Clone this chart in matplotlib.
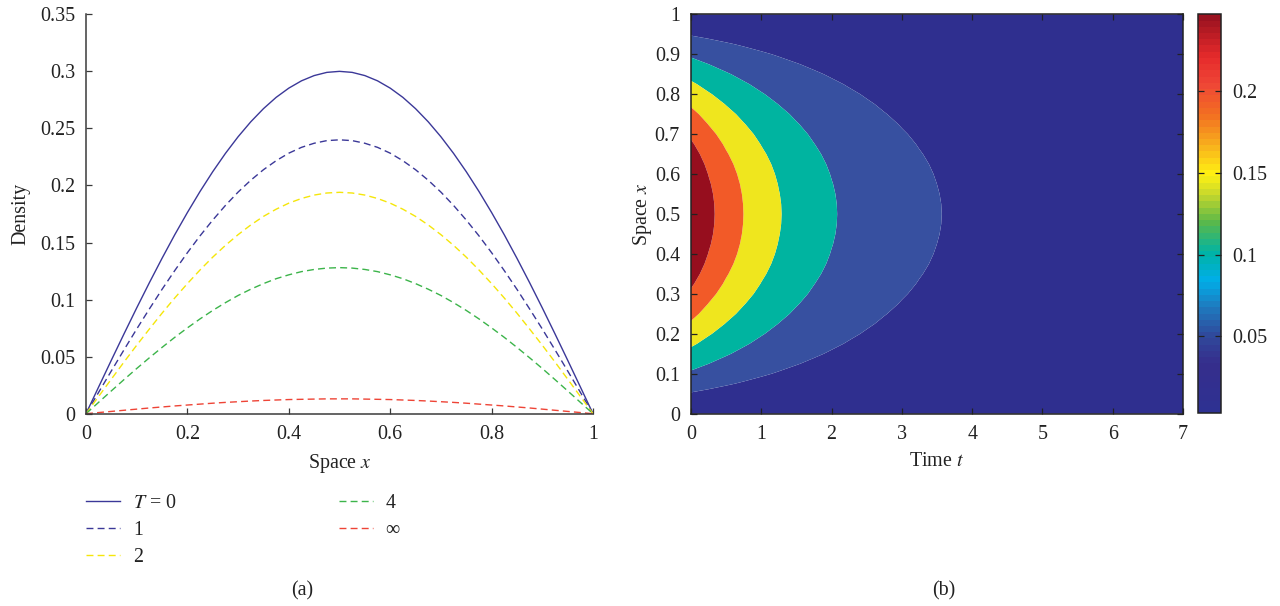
import matplotlib
matplotlib.use("Agg")
import matplotlib.pyplot as plt
import numpy as np
from matplotlib.colors import LinearSegmentedColormap, Normalize
from matplotlib.cm import ScalarMappable
from matplotlib.ticker import FuncFormatter

plt.rcParams["font.family"] = ["Liberation Serif", "DejaVu Serif"]
plt.rcParams["mathtext.fontset"] = "stix"
plt.rcParams["font.size"] = 14.4

# ─────────────────────────────────────────────
# Data
# ─────────────────────────────────────────────
x_space = [0.000, 0.025, 0.050, 0.075, 0.100, 0.125, 0.150, 0.175, 0.200, 0.225, 0.250,
           0.275, 0.300, 0.325, 0.350, 0.375, 0.400, 0.425, 0.450, 0.475, 0.500,
           0.525, 0.550, 0.575, 0.600, 0.625, 0.650, 0.675, 0.700, 0.725, 0.750,
           0.775, 0.800, 0.825, 0.850, 0.875, 0.900, 0.925, 0.950, 0.975, 1.000]

density_T0 = [0.0000, 0.0235, 0.0469, 0.0700, 0.0927, 0.1148, 0.1362, 0.1568, 0.1763, 0.1948, 0.2121,
              0.2281, 0.2427, 0.2558, 0.2673, 0.2772, 0.2853, 0.2917, 0.2963, 0.2991, 0.3000,
              0.2991, 0.2963, 0.2917, 0.2853, 0.2772, 0.2673, 0.2558, 0.2427, 0.2281, 0.2121,
              0.1948, 0.1763, 0.1568, 0.1362, 0.1148, 0.0927, 0.0700, 0.0469, 0.0235, 0.0000]
density_T1 = [0.0000, 0.0188, 0.0375, 0.0560, 0.0742, 0.0918, 0.1090, 0.1254, 0.1411, 0.1559, 0.1697,
              0.1825, 0.1942, 0.2046, 0.2138, 0.2217, 0.2283, 0.2334, 0.2370, 0.2393, 0.2400,
              0.2393, 0.2370, 0.2334, 0.2283, 0.2217, 0.2138, 0.2046, 0.1942, 0.1825, 0.1697,
              0.1559, 0.1411, 0.1254, 0.1090, 0.0918, 0.0742, 0.0560, 0.0375, 0.0188, 0.0000]
density_T2 = [0.0000, 0.0152, 0.0303, 0.0453, 0.0600, 0.0742, 0.0881, 0.1014, 0.1140, 0.1260, 0.1372,
              0.1475, 0.1569, 0.1654, 0.1729, 0.1792, 0.1845, 0.1886, 0.1916, 0.1934, 0.1940,
              0.1934, 0.1916, 0.1886, 0.1845, 0.1792, 0.1729, 0.1654, 0.1569, 0.1475, 0.1372,
              0.1260, 0.1140, 0.1014, 0.0881, 0.0742, 0.0600, 0.0453, 0.0303, 0.0152, 0.0000]
density_T4 = [0.0000, 0.0100, 0.0200, 0.0299, 0.0396, 0.0490, 0.0581, 0.0669, 0.0752, 0.0831, 0.0905,
              0.0973, 0.1036, 0.1091, 0.1140, 0.1183, 0.1217, 0.1245, 0.1264, 0.1276, 0.1280,
              0.1276, 0.1264, 0.1245, 0.1217, 0.1183, 0.1140, 0.1091, 0.1036, 0.0973, 0.0905,
              0.0831, 0.0752, 0.0669, 0.0581, 0.0490, 0.0396, 0.0299, 0.0200, 0.0100, 0.0000]
density_Tinf = [0.0000, 0.0010, 0.0020, 0.0030, 0.0040, 0.0050, 0.0059, 0.0068, 0.0076, 0.0084, 0.0092,
                0.0099, 0.0105, 0.0111, 0.0116, 0.0120, 0.0124, 0.0126, 0.0128, 0.0130, 0.0130,
                0.0130, 0.0128, 0.0126, 0.0124, 0.0120, 0.0116, 0.0111, 0.0105, 0.0099, 0.0092,
                0.0084, 0.0076, 0.0068, 0.0059, 0.0050, 0.0040, 0.0030, 0.0020, 0.0010, 0.0000]

curve_labels = [r"$T$ = 0", "1", "2", "4", "∞"]

# (b) density on the midline x = 0.5 over time
t_time = [0.00, 0.25, 0.50, 0.75, 1.00, 1.25, 1.50, 1.75, 2.00, 2.25, 2.50, 2.75, 3.00, 3.25, 3.50,
          3.75, 4.00, 4.25, 4.50, 4.75, 5.00, 5.25, 5.50, 5.75, 6.00, 6.25, 6.50, 6.75, 7.00]
peak_density = [0.300, 0.2616, 0.2283, 0.1995, 0.1745, 0.1529, 0.1341, 0.1179, 0.1039, 0.0917,
                0.0812, 0.0720, 0.0641, 0.0573, 0.0514, 0.0462, 0.0418, 0.0379, 0.0346, 0.0317,
                0.0292, 0.0270, 0.0251, 0.0235, 0.0221, 0.0209, 0.0198, 0.0189, 0.0181]

contour_levels = [0.0, 0.05, 0.10, 0.15, 0.20, 0.25, 0.31]
colorbar_ticks = [0.05, 0.10, 0.15, 0.20]
cbar_min, cbar_max = 0.003, 0.247

# ─────────────────────────────────────────────
# Styles
# ─────────────────────────────────────────────
W, H = 1280, 606
line_colors = ["#3b3898", "#3b3898", "#f5e60a", "#3cb44a", "#ee4436"]
line_styles = ["-", "--", "--", "--", "--"]
fill_colors = ["#2f2f8f", "#3750a0", "#00b4a0", "#efe61e", "#f25a28", "#960e1e"]
spine_col = "#3a3a3a"

jet_like = LinearSegmentedColormap.from_list("jet_print", [
    (0.00, "#2e3192"), (0.12, "#362e8c"), (0.19, "#2f4a9c"), (0.26, "#1f78bd"),
    (0.33, "#00aee8"), (0.40, "#00b3a5"), (0.48, "#5cb848"), (0.55, "#c8d82c"),
    (0.60, "#fff212"), (0.67, "#f8b31c"), (0.75, "#f37021"), (0.83, "#ef4636"),
    (0.90, "#e52a2b"), (1.00, "#9a1220")], N=64)

fmt = FuncFormatter(lambda v, p: "%g" % round(v, 3))

fig = plt.figure(figsize=(W / 100, H / 100), dpi=100)


def px_axes(x0, y0, x1, y1):
    return fig.add_axes([x0 / W, 1 - y1 / H, (x1 - x0) / W, (y1 - y0) / H])


# ─────────────────────────────────────────────
# (a) density curves
# ─────────────────────────────────────────────
ax1 = px_axes(86, 14.3, 593, 413.7)
series = [density_T0, density_T1, density_T2, density_T4, density_Tinf]
for vals, lab, col, ls in zip(series, curve_labels, line_colors, line_styles):
    kw = {"dashes": (5, 3)} if ls == "--" else {}
    ax1.plot(x_space, vals, color=col, lw=1.0, linestyle=ls, label=lab, **kw)

ax1.set_xlim(0, 1)
ax1.set_ylim(0, 0.35)
ax1.set_xticks([0, 0.2, 0.4, 0.6, 0.8, 1])
ax1.set_yticks([0, 0.05, 0.1, 0.15, 0.2, 0.25, 0.3, 0.35])
ax1.xaxis.set_major_formatter(fmt)
ax1.yaxis.set_major_formatter(fmt)
for s in ["top", "right"]:
    ax1.spines[s].set_visible(False)
for s in ["left", "bottom"]:
    ax1.spines[s].set_color(spine_col)
    ax1.spines[s].set_linewidth(1.1)
ax1.tick_params(direction="in", length=4, width=0.9, color=spine_col, pad=8,
                labelcolor="#222222")
ax1.set_xlabel("Space $x$", color="#222222")
ax1.set_ylabel("Density", color="#222222")
ax1.xaxis.set_label_coords(0.5, -0.095)
ax1.yaxis.set_label_coords(-0.11, 0.5)

ax1.legend(loc="upper left", bbox_to_anchor=(86 / W, 1 - 494 / H),
           bbox_transform=fig.transFigure, ncol=2, frameon=False,
           borderpad=0, borderaxespad=0, handlelength=1.7, handletextpad=0.65,
           columnspacing=8.1, labelspacing=0.4, fontsize=14.4,
           labelcolor="#222222")

# ─────────────────────────────────────────────
# (b) contour of density over time and space
# ─────────────────────────────────────────────
ax2 = px_axes(691, 14.3, 1183, 413.7)
shape = np.array(density_T0) / max(density_T0)
field = np.outer(shape, np.array(peak_density))
ax2.contourf(t_time, x_space, field, levels=contour_levels, colors=fill_colors,
             antialiased=True)
ax2.set_xlim(0, 7)
ax2.set_ylim(0, 1)
ax2.set_xticks(range(8))
ax2.set_yticks([0, 0.1, 0.2, 0.3, 0.4, 0.5, 0.6, 0.7, 0.8, 0.9, 1])
ax2.yaxis.set_major_formatter(fmt)
for s in ax2.spines.values():
    s.set_color("#222222")
    s.set_linewidth(1.1)
ax2.tick_params(direction="in", length=4, width=0.9, color="#222222", pad=8,
                top=True, right=True, labelcolor="#222222")
ax2.set_xlabel("Time $t$", color="#222222")
ax2.set_ylabel("Space $x$", color="#222222")
ax2.xaxis.set_label_coords(0.5, -0.095)
ax2.yaxis.set_label_coords(-0.075, 0.5)

cax = px_axes(1198, 14.3, 1221, 413.3)
sm = ScalarMappable(norm=Normalize(cbar_min, cbar_max), cmap=jet_like)
cb = fig.colorbar(sm, cax=cax, ticks=colorbar_ticks)
cb.ax.yaxis.set_major_formatter(fmt)
cb.outline.set_edgecolor("#222222")
cb.outline.set_linewidth(1.1)
cax.tick_params(direction="in", length=4, width=0.9, color="#222222", pad=8,
                left=True, right=True, labelcolor="#222222")

fig.text(302 / W, 1 - 591 / H, "(a)", ha="center", va="center", color="#222222")
fig.text(944 / W, 1 - 591 / H, "(b)", ha="center", va="center", color="#222222")

fig.savefig("out.png", dpi=100)
